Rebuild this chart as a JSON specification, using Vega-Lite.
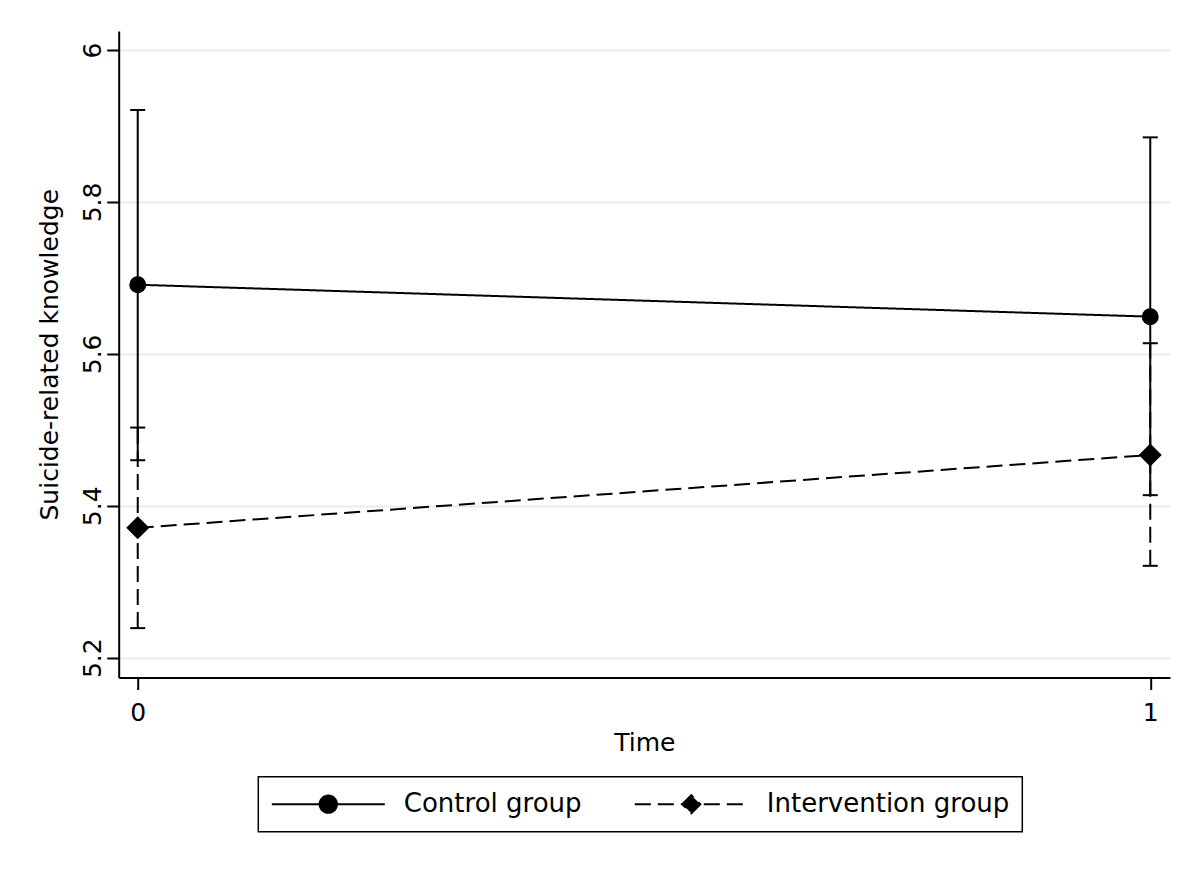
{
  "$schema": "https://vega.github.io/schema/vega-lite/v6.json",
  "autosize": {"type": "none"},
  "padding": {"left": 118.7, "top": 31, "right": 30, "bottom": 196.5},
  "width": 1051.3,
  "height": 646.5,
  "background": "white",
  "data": {
    "values": [
      {"group": "Control group", "time": 0, "mean": 5.691, "lo": 5.46, "hi": 5.921},
      {"group": "Control group", "time": 1, "mean": 5.649, "lo": 5.414, "hi": 5.885},
      {"group": "Intervention group", "time": 0, "mean": 5.371, "lo": 5.239, "hi": 5.503},
      {"group": "Intervention group", "time": 1, "mean": 5.467, "lo": 5.321, "hi": 5.614}
    ]
  },
  "encoding": {
    "x": {
      "field": "time", "type": "quantitative",
      "scale": {"domain": [-0.0188, 1.0195], "nice": false, "zero": false},
      "axis": {"values": [0, 1], "format": "d", "title": "Time", "grid": false, "labelPadding": 11, "titlePadding": 5}
    }
  },
  "layer": [
    {
      "mark": {"type": "rule", "stroke": "black", "strokeWidth": 2},
      "encoding": {
        "y": {"field": "lo", "type": "quantitative",
          "scale": {"domain": [5.174, 6.025], "nice": false, "zero": false},
          "axis": {"values": [5.2, 5.4, 5.6, 5.8, 6], "format": ".1~f", "title": "Suicide-related knowledge",
            "labelAngle": -90, "labelAlign": "center", "labelBaseline": "alphabetic", "labelPadding": 6.7, "titlePadding": 17, "grid": true}},
        "y2": {"field": "hi"},
        "strokeDash": {"field": "group", "type": "nominal",
          "scale": {"domain": ["Control group", "Intervention group"], "range": [[1, 0], [16, 7]]}}
      }
    },
    {
      "mark": {"type": "tick", "orient": "horizontal", "color": "black", "size": 15, "thickness": 2, "opacity": 1},
      "encoding": {"y": {"field": "lo", "type": "quantitative"}}
    },
    {
      "mark": {"type": "tick", "orient": "horizontal", "color": "black", "size": 15, "thickness": 2, "opacity": 1},
      "encoding": {"y": {"field": "hi", "type": "quantitative"}}
    },
    {
      "mark": {"type": "line", "stroke": "black", "strokeWidth": 2},
      "encoding": {
        "y": {"field": "mean", "type": "quantitative"},
        "strokeDash": {"field": "group", "type": "nominal",
          "legend": {
            "title": null,
            "orient": "none",
            "legendX": 139.6,
            "legendY": 745.7,
            "direction": "horizontal",
            "padding": 12.5,
            "clipHeight": 30,
            "symbolSize": 12769,
            "symbolStrokeWidth": 2,
            "symbolStrokeColor": "black",
            "symbolFillColor": "black",
            "labelFont": "DejaVu Sans",
            "labelFontSize": 26,
            "labelColor": "black",
            "labelOffset": 18,
            "columnPadding": 52,
            "labelLimit": 400,
            "strokeColor": "black",
            "encode": {
              "legend": {"update": {"stroke": {"value": "black"}, "strokeWidth": {"value": 1.5}}},
              "symbols": {"update": {
                "shape": {"signal": "datum.value === 'Control group' ? 'M-1,0H1M0.153,0A0.153,0.153,0,1,1,-0.153,0A0.153,0.153,0,1,1,0.153,0Z' : 'M-1,0H1M-0.16,0L0,-0.16L0.16,0L0,0.16Z'"},
                "fill": {"value": "black"},
                "stroke": {"value": "black"},
                "opacity": {"value": 1}
              }}
            }
          }}
      }
    },
    {
      "transform": [{"filter": "datum.group === 'Control group'"}],
      "mark": {"type": "point", "filled": true, "color": "black", "opacity": 1, "shape": "circle", "size": 289},
      "encoding": {"y": {"field": "mean", "type": "quantitative"}}
    },
    {
      "transform": [{"filter": "datum.group === 'Intervention group'"}],
      "mark": {"type": "point", "filled": true, "color": "black", "opacity": 1, "shape": "diamond", "size": 529},
      "encoding": {"y": {"field": "mean", "type": "quantitative"}}
    }
  ],
  "config": {
    "view": {"stroke": null},
    "axis": {
      "domainColor": "black", "domainWidth": 2,
      "tickColor": "black", "tickWidth": 2, "tickSize": 12,
      "labelFont": "DejaVu Sans", "labelFontSize": 25, "labelColor": "black",
      "titleFont": "DejaVu Sans", "titleFontSize": 25, "titleFontWeight": "normal", "titleColor": "black",
      "gridColor": "#e6eef0", "gridWidth": 2, "gridOpacity": 1
    }
  }
}
